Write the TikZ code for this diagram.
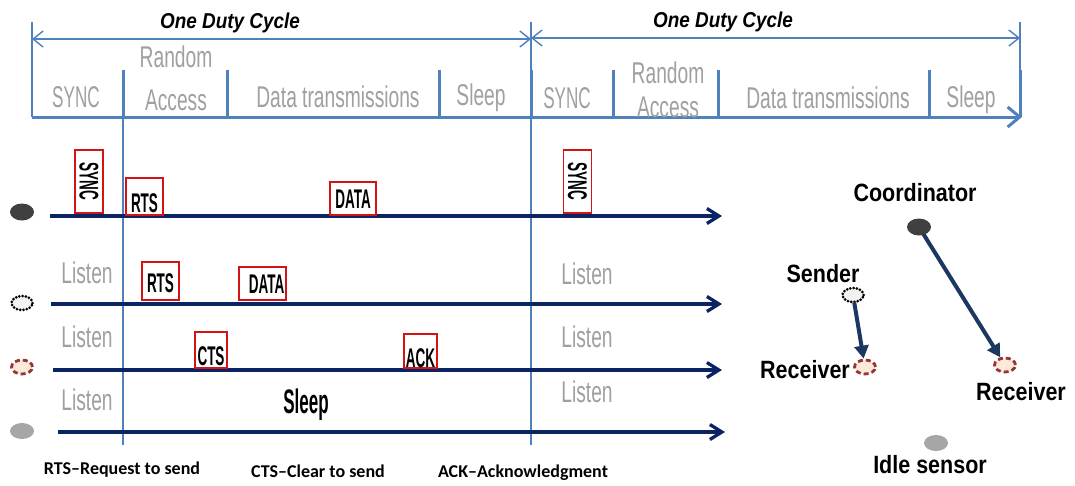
\documentclass[tikz,border=0pt]{standalone}
\usepackage{fontspec}
\usetikzlibrary{arrows.meta,shapes.geometric}
\setmainfont{Liberation Sans}
% condensed faces for the phase names and packet labels
\newfontfamily\phasefont[FakeStretch=0.64]{Liberation Sans}
\newfontfamily\phasecaps[FakeStretch=0.57]{Liberation Sans}
\newfontfamily\packetfont[FakeStretch=0.5]{Liberation Sans}
\newfontfamily\rolefont[FakeStretch=0.86]{Liberation Sans}
\newfontfamily\titlefont[FakeStretch=0.88]{Liberation Sans}
\newfontfamily\legendfont{Carlito}

\definecolor{tlblue}{RGB}{79,129,189}
\definecolor{rownavy}{RGB}{10,36,99}
\definecolor{netblue}{RGB}{26,56,96}
\definecolor{pktred}{RGB}{210,20,20}
\definecolor{phasegray}{RGB}{160,160,160}
\definecolor{coordfill}{RGB}{64,64,64}
\definecolor{idlefill}{RGB}{166,166,166}
\definecolor{recvline}{RGB}{149,55,53}
\definecolor{recvfill}{RGB}{253,233,217}
\definecolor{sendfill}{RGB}{242,242,242}

\begin{document}
\begin{tikzpicture}[x=1pt,y=-1pt,
  thinline/.style={draw=tlblue,line width=1.5pt},
  divider/.style={draw=tlblue,line width=3pt},
  span/.style={draw=tlblue,line width=1.4pt,
    {Straight Barb[length=10pt,width=16pt]}-{Straight Barb[length=10pt,width=16pt]}},
  axis/.style={draw=tlblue,line width=3pt,-{Straight Barb[length=12pt,width=20pt]}},
  timeline/.style={draw=rownavy,line width=3.3pt,-{Straight Barb[length=12pt,width=15pt]}},
  netarrow/.style={draw=netblue,line width=4pt,-{Triangle[length=13pt,width=14pt]},shorten <=-1pt},
  cycletitle/.style={font=\titlefont\bfseries\itshape\fontsize{21.5}{24}\selectfont,anchor=base,inner sep=0},
  phase/.style={text=phasegray,font=\phasefont\fontsize{30}{32}\selectfont,anchor=base,inner sep=0},
  phasecap/.style={phase,font=\phasecaps\fontsize{30}{32}\selectfont},
  packet/.style={draw=pktred,line width=1.4pt,fill=white,inner sep=0,
    font=\packetfont\bfseries\fontsize{27}{29}\selectfont},
  vpacket/.style={packet,rotate=-90,minimum width=63pt,minimum height=28pt,
    text height=19pt,text depth=0pt},
  role/.style={font=\rolefont\bfseries\fontsize{25}{27}\selectfont,anchor=base,inner sep=0},
  legend/.style={font=\legendfont\bfseries\fontsize{18}{20}\selectfont,anchor=base,inner sep=0},
  coordnode/.style={ellipse,fill=coordfill,minimum width=24pt,minimum height=17pt,inner sep=0},
  idlenode/.style={ellipse,fill=idlefill,minimum width=24pt,minimum height=16pt,inner sep=0},
  sendnode/.style={ellipse,fill=sendfill,draw=black,line width=3pt,line cap=round,
    dash pattern=on 0pt off 3.3pt,minimum width=21pt,minimum height=14pt,inner sep=0},
  recvnode/.style={ellipse,fill=recvfill,draw=recvline,line width=2.8pt,
    dash pattern=on 5pt off 3pt,minimum width=21pt,minimum height=14pt,inner sep=0}
]
\useasboundingbox[fill=white] (0,0) rectangle (1075,485);

% ---- duty cycle frame ----
\coordinate (c0top) at (32,22);   \coordinate (c0bot) at (32,117);
\coordinate (c1top) at (531,22);  \coordinate (c1bot) at (531,445);
\coordinate (c2top) at (1020,22); \coordinate (c2bot) at (1020,117);
\draw[thinline] (c0top) -- (c0bot);
\draw[thinline] (c1top) -- (c1bot);
\draw[thinline] (c2top) -- (c2bot);
\draw[thinline] (123,70) -- (123,445);
\draw[span] (32,39) -- (531,39);
\draw[span] (531,38) -- (1020,38);
\node[cycletitle] (title1) at (230,28) {One Duty Cycle};
\node[cycletitle] (title2) at (723,27) {One Duty Cycle};

\foreach \x in {123,227,439,531,613,718,929,1020}
  \draw[divider] (\x,70) -- (\x,117);
\draw[axis] (32,117) -- (1022,117);

% phase names
\node[phasecap] (syncA) at (76,107) {SYNC};
\node[phase] (randA) at (176,67) {Random};
\node[phase] (accA) at (176,110) {Access};
\node[phase] (dataA) at (338,107) {Data transmissions};
\node[phase] (sleepA) at (481,105) {Sleep};
\node[phasecap] (syncB) at (567,108) {SYNC};
\node[phase] (randB) at (668,83) {Random};
\node[phase] (accB) at (668,117) {Access};
\node[phase] (dataB) at (828,108) {Data transmissions};
\node[phase] (sleepB) at (971,107) {Sleep};

% ---- per-node timelines ----
\node[coordnode] (tcoord) at (22,212) {};
\node[sendnode]  (tsend)  at (22,303) {};
\node[recvnode]  (trecv)  at (22,367) {};
\node[idlenode]  (tidle)  at (22,431) {};

\coordinate (r1s) at (50,216);  \coordinate (r1e) at (722,216);
\coordinate (r2s) at (51,304);  \coordinate (r2e) at (722,304);
\coordinate (r3s) at (53,370);  \coordinate (r3e) at (722,370);
\coordinate (r4s) at (58,432);  \coordinate (r4e) at (725,432);
\draw[timeline] (r1s) -- (r1e);
\draw[timeline] (r2s) -- (r2e);
\draw[timeline] (r3s) -- (r3e);
\draw[timeline] (r4s) -- (r4e);

% packets
\node[vpacket] (sync1) at (89,181.5) {SYNC};
\node[vpacket] (sync2) at (577.5,181.5) {SYNC};
\node[packet,minimum width=37pt,text height=34pt,text depth=3pt] (rts1) at (144.5,196.5) {RTS};
\node[packet,minimum width=46pt,text height=26pt,text depth=7pt] (data1) at (353,198.5) {DATA};
\node[packet,minimum width=37pt,text height=30pt,text depth=8pt] (rts2) at (160.5,281) {RTS};
\node[packet,minimum width=47pt,text height=26pt,text depth=7pt] (data2) at (262.5,283.5) {\hspace*{8pt}DATA};
\node[packet,minimum width=32pt,text height=33pt,text depth=3pt] (cts) at (211,350) {CTS};
\node[packet,minimum width=33pt,text height=33pt,text depth=1pt] (ack) at (420.5,351) {ACK};

% listen / sleep states
\node[phase] (lst1) at (87,283) {Listen};
\node[phase] (lst2) at (87,347) {Listen};
\node[phase] (lst3) at (87,410) {Listen};
\node[phase] (lst4) at (587,284) {Listen};
\node[phase] (lst5) at (587,347) {Listen};
\node[phase] (lst6) at (587,402) {Listen};
\node[anchor=base,inner sep=0,font=\packetfont\bfseries\fontsize{34}{36}\selectfont] (idlesleep) at (306,413) {Sleep};

% legend
\node[legend] (lgRTS) at (122,474) {RTS–Request to send};
\node[legend] (lgCTS) at (318,477) {CTS–Clear to send};
\node[legend] (lgACK) at (523,477) {ACK–Acknowledgment};

% ---- network sketch ----
\node[coordnode] (coord) at (919,227) {};
\node[sendnode]  (send)  at (853,295) {};
\node[recvnode]  (recvA) at (865,367) {};
\node[recvnode]  (recvB) at (1005,365) {};
\node[idlenode]  (idle)  at (936,443) {};
\node[role] (coordLbl) at (915,201) {Coordinator};
\node[role] (sendLbl)  at (823,282) {Sender};
\node[role] (recvALbl) at (805,378) {Receiver};
\node[role] (recvBLbl) at (1021,400) {Receiver};
\node[role] (idleLbl)  at (930,473) {Idle sensor};
\draw[netarrow] (coord) -- (recvB);
\draw[netarrow] (send) -- (recvA);
\end{tikzpicture}
\end{document}
